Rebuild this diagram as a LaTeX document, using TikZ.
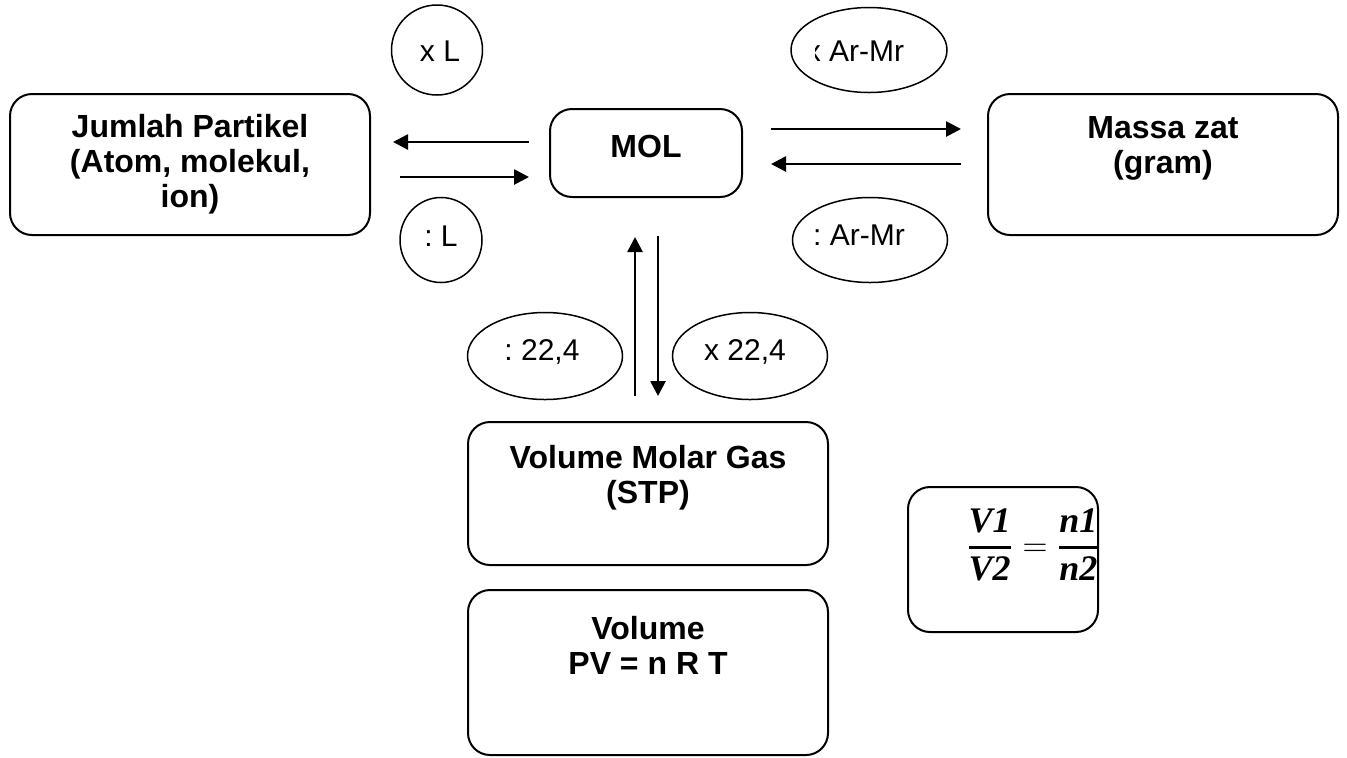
\documentclass[tikz,border=0pt]{standalone}
\usepackage{fontspec}
\setmainfont{Liberation Sans}
\newfontfamily\fmfont{Liberation Serif}
\usepackage{amsmath}
\usetikzlibrary{arrows.meta,shapes.geometric}
\newcommand{\fv}[1]{\text{\fmfont\bfseries\itshape #1}}
\newcommand{\ffr}[2]{\genfrac{}{}{1.3pt}{0}{#1}{#2}}
\frenchspacing
\begin{document}
\begin{tikzpicture}[x=0.5pt,y=-0.5pt,
  box/.style={draw,line width=1pt,rounded corners=11pt,inner sep=0pt},
  btxt/.style={font=\fontsize{16}{17.5}\selectfont\bfseries,align=center,inner sep=0pt},
  ell/.style={draw,ellipse,line width=0.75pt,inner sep=0pt},
  etxt/.style={inner sep=0pt,font=\fontsize{15}{17}\selectfont},
  arr/.style={line width=1.35pt,-{Triangle[length=7.5pt,width=7.5pt]}}]
\useasboundingbox (0,0) rectangle (1347,757);
% boxes
\node[box,minimum width=180pt,minimum height=70.5pt] (jp) at (190,164.5) {};
\node[box,minimum width=96pt,minimum height=44pt] (mol) at (646,153) {};
\node[box,minimum width=175pt,minimum height=70.5pt] (mz) at (1163,164.5) {};
\node[box,minimum width=180pt,minimum height=71.5pt] (vm) at (648,493.5) {};
\node[box,minimum width=180pt,minimum height=82.5pt] (pv) at (648,672.5) {};
\node[box,minimum width=95pt,minimum height=72.5pt] (fm) at (1003,559.5) {};
% box texts
\node[btxt] (jpt) at (190,164) {Jumlah Partikel\\(Atom, molekul,\\ion)};
\node[btxt] (molt) at (646,146) {MOL};
\node[btxt] (mzt) at (1163,148) {Massa zat\\(gram)};
\node[btxt] (vmt) at (648,478) {Volume Molar Gas\\(STP)};
\node[btxt] (pvt) at (648,645) {Volume\\PV = n R T};
\node[inner sep=0pt,font=\fontsize{18}{20}\selectfont] (fmt) at (1033,545)
  {$\displaystyle\ffr{\fv{V1}}{\fv{V2}} = \ffr{\fv{n1}}{\fv{n2}}$};
% ellipses
\node[ell,minimum width=45.5pt,minimum height=45pt] (xl) at (437,50) {};
\node[etxt] (xlt) at (440,51) {x L};
\node[ell,minimum width=41pt,minimum height=42.5pt] (dl) at (441,240) {};
\node[etxt] (dlt) at (441,236) {: L};
\node[ell,minimum width=78pt,minimum height=42.5pt] (xam) at (869,50) {};
\begin{scope}
  \clip (815,0) rectangle (960,100);
  \node[etxt] (xamt) at (855,51) {x Ar-Mr};
\end{scope}
\node[ell,minimum width=77.5pt,minimum height=42.5pt] (dam) at (870,240) {};
\node[etxt] (damt) at (859,235) {: Ar-Mr};
\node[ell,minimum width=77.5pt,minimum height=43.5pt] (d22) at (545,356) {};
\node[etxt] (d22t) at (542,352) {: 22,4};
\node[ell,minimum width=77.5pt,minimum height=43.5pt] (x22) at (750,356) {};
\node[etxt] (x22t) at (745,352) {x 22,4};
% arrows
\draw[arr] ([shift={(-20,-11)}]mol.west) -- ([shift={(22,-22.5)}]jp.east);
\draw[arr] ([shift={(29,12.5)}]jp.east) -- ([shift={(-20,24)}]mol.west);
\draw[arr] ([shift={(28,-24)}]mol.east) -- ([shift={(-26,-35.5)}]mz.west);
\draw[arr] ([shift={(-26,-0.5)}]mz.west) -- ([shift={(28,11)}]mol.east);
\draw[arr] ([shift={(-13,-25)}]vm.north) -- ([shift={(-11,39)}]mol.south);
\draw[arr] ([shift={(12,38)}]mol.south) -- ([shift={(10,-25)}]vm.north);
\end{tikzpicture}
\end{document}
